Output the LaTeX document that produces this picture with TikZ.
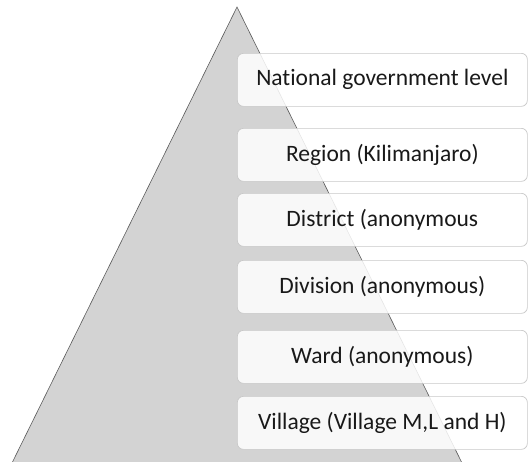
\documentclass[tikz,border=0pt]{standalone}
\usepackage{fontspec}
\setmainfont{Carlito}[Ligatures={NoCommon}]
\definecolor{boxgray}{RGB}{200,200,200}
\definecolor{trigray}{RGB}{211,211,211}
\definecolor{edgegray}{RGB}{90,90,90}
\definecolor{textgray}{RGB}{25,25,25}
\begin{document}
\begin{tikzpicture}[x=1pt,y=-1pt,
  lvl/.style={draw=boxgray, line width=0.7pt, fill=white, fill opacity=0.85, text opacity=1,
    rounded corners=6pt, minimum width=290pt, minimum height=53pt, anchor=north west,
    inner sep=0pt, font=\fontsize{23.5}{28}\selectfont, text=textgray},
  pyr/.style={draw=edgegray, line width=0.6pt, fill=trigray}]
\useasboundingbox (0,0) rectangle (528,461);
\begin{scope}
\clip (0,0) rectangle (528,461);
\draw[pyr] (237,7) -- (462,463) -- (12,463) -- cycle;
\end{scope}
\node[lvl] (n1) at (237,53) {National government level};
\node[lvl] (n2) at (237,128) {Region (Kilimanjaro)};
\node[lvl] (n3) at (237,193) {District (anonymous};
\node[lvl] (n4) at (237,260) {Division (anonymous)};
\node[lvl] (n5) at (237,330) {Ward (anonymous)};
\node[lvl] (n6) at (237,396) {Village (Village M,L and H)};
\end{tikzpicture}
\end{document}
